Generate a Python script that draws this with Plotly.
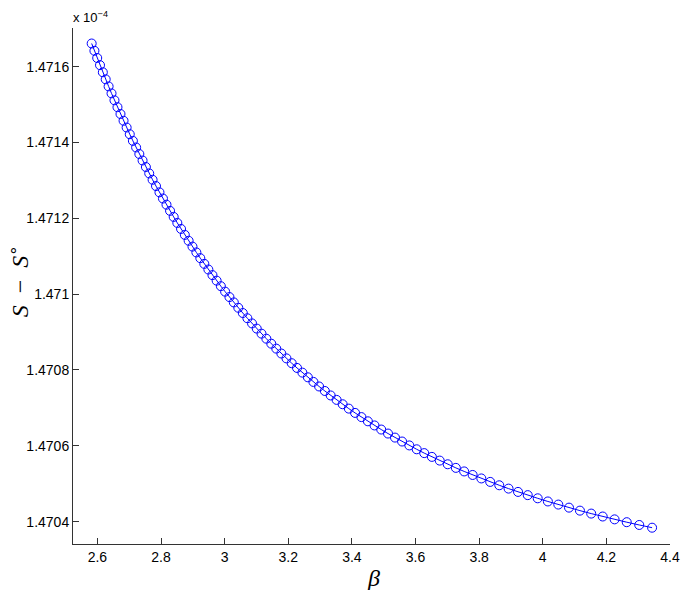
import plotly.graph_objects as go

# beta values (left to right)
beta = [2.5820, 2.5906, 2.5994, 2.6082, 2.6171, 2.6261, 2.6352, 2.6444, 2.6537, 2.6631,
        2.6726, 2.6822, 2.6919, 2.7017, 2.7116, 2.7217, 2.7318, 2.7420, 2.7524, 2.7629,
        2.7735, 2.7842, 2.7951, 2.8061, 2.8172, 2.8284, 2.8398, 2.8513, 2.8630, 2.8748,
        2.8868, 2.8989, 2.9111, 2.9235, 2.9361, 2.9488, 2.9617, 2.9748, 2.9881, 3.0015,
        3.0151, 3.0289, 3.0429, 3.0571, 3.0715, 3.0861, 3.1009, 3.1159, 3.1311, 3.1466,
        3.1623, 3.1782, 3.1944, 3.2108, 3.2275, 3.2444, 3.2616, 3.2791, 3.2969, 3.3150,
        3.3333, 3.3520, 3.3710, 3.3903, 3.4100, 3.4300, 3.4503, 3.4711, 3.4922, 3.5136,
        3.5355, 3.5578, 3.5806, 3.6037, 3.6274, 3.6515, 3.6761, 3.7012, 3.7268, 3.7529,
        3.7796, 3.8069, 3.8348, 3.8633, 3.8925, 3.9223, 3.9528, 3.9841, 4.0161, 4.0489,
        4.0825, 4.1169, 4.1523, 4.1885, 4.2258, 4.2640, 4.3033, 4.3437]

# S - S° values (in units of 1e-4)
s_diff = [1.4716611, 1.4716419, 1.4716229, 1.4716040, 1.4715852, 1.4715666, 1.4715480, 1.4715296, 1.4715113, 1.4714932,
          1.4714752, 1.4714573, 1.4714395, 1.4714218, 1.4714043, 1.4713869, 1.4713696, 1.4713525, 1.4713354, 1.4713185,
          1.4713017, 1.4712851, 1.4712686, 1.4712522, 1.4712359, 1.4712197, 1.4712037, 1.4711878, 1.4711720, 1.4711563,
          1.4711408, 1.4711254, 1.4711101, 1.4710949, 1.4710799, 1.4710650, 1.4710502, 1.4710356, 1.4710210, 1.4710066,
          1.4709923, 1.4709782, 1.4709641, 1.4709502, 1.4709364, 1.4709228, 1.4709092, 1.4708958, 1.4708825, 1.4708693,
          1.4708563, 1.4708434, 1.4708306, 1.4708179, 1.4708054, 1.4707930, 1.4707807, 1.4707685, 1.4707565, 1.4707446,
          1.4707328, 1.4707211, 1.4707096, 1.4706981, 1.4706868, 1.4706757, 1.4706646, 1.4706537, 1.4706429, 1.4706323,
          1.4706217, 1.4706113, 1.4706010, 1.4705908, 1.4705807, 1.4705708, 1.4705610, 1.4705513, 1.4705418, 1.4705324,
          1.4705231, 1.4705139, 1.4705048, 1.4704959, 1.4704871, 1.4704784, 1.4704699, 1.4704615, 1.4704532, 1.4704450,
          1.4704369, 1.4704290, 1.4704212, 1.4704135, 1.4704060, 1.4703985, 1.4703912, 1.4703840]

x_tickvals = [2.6, 2.8, 3.0, 3.2, 3.4, 3.6, 3.8, 4.0, 4.2, 4.4]
x_ticktext = ["2.6", "2.8", "3", "3.2", "3.4", "3.6", "3.8", "4", "4.2", "4.4"]
y_tickvals = [1.4704, 1.4706, 1.4708, 1.4710, 1.4712, 1.4714, 1.4716]
y_ticktext = ["1.4704", "1.4706", "1.4708", "1.471", "1.4712", "1.4714", "1.4716"]

n = min(len(beta), len(s_diff))

fig = go.Figure()
fig.add_trace(go.Scatter(
    x=beta[:n], y=s_diff[:n], mode="lines+markers",
    line=dict(color="#0000ff", width=1),
    marker=dict(symbol="circle-open", size=9, color="#0000ff", line=dict(width=1, color="#0000ff")),
    showlegend=False,
))

axis_font = dict(family="Liberation Sans, Arial, sans-serif", size=14, color="#000000")

fig.update_layout(
    width=684, height=582,
    margin=dict(l=65, r=15, t=20, b=46),
    paper_bgcolor="white", plot_bgcolor="white",
    font=axis_font,
    xaxis=dict(range=[2.5233, 4.4], tickvals=x_tickvals, ticktext=x_ticktext,
               ticks="inside", ticklen=6, tickwidth=1, tickcolor="#333333",
               showline=True, linecolor="#333333", linewidth=1, mirror=False,
               showgrid=False, zeroline=False, tickfont=axis_font),
    yaxis=dict(range=[1.470341, 1.471702], tickvals=y_tickvals, ticktext=y_ticktext,
               ticks="inside", ticklen=6, tickwidth=1, tickcolor="#333333",
               showline=True, linecolor="#333333", linewidth=1, mirror=False,
               showgrid=False, zeroline=False, tickfont=axis_font),
    annotations=[
        dict(text="x 10<sup>−4</sup>", xref="paper", yref="paper", x=0.0, y=1.0,
             xanchor="left", yanchor="bottom", yshift=1, xshift=-2, showarrow=False,
             font=dict(family="Liberation Sans, Arial, sans-serif", size=13, color="#000000")),
        dict(text="<i>β</i>", xref="paper", yref="paper", x=0.503, y=-0.066,
             xanchor="center", yanchor="middle", showarrow=False,
             font=dict(family="Liberation Serif, Times New Roman, serif", size=24, color="#000000")),
        dict(text="<i>S</i>\u2002−\u2002<i>S</i><sup>∘</sup>", xref="paper", yref="paper", x=-0.093, y=0.51,
             xanchor="center", yanchor="middle", textangle=-90, showarrow=False,
             font=dict(family="Liberation Serif, Times New Roman, serif", size=24, color="#000000")),
    ],
)

fig.write_html("out.html")
